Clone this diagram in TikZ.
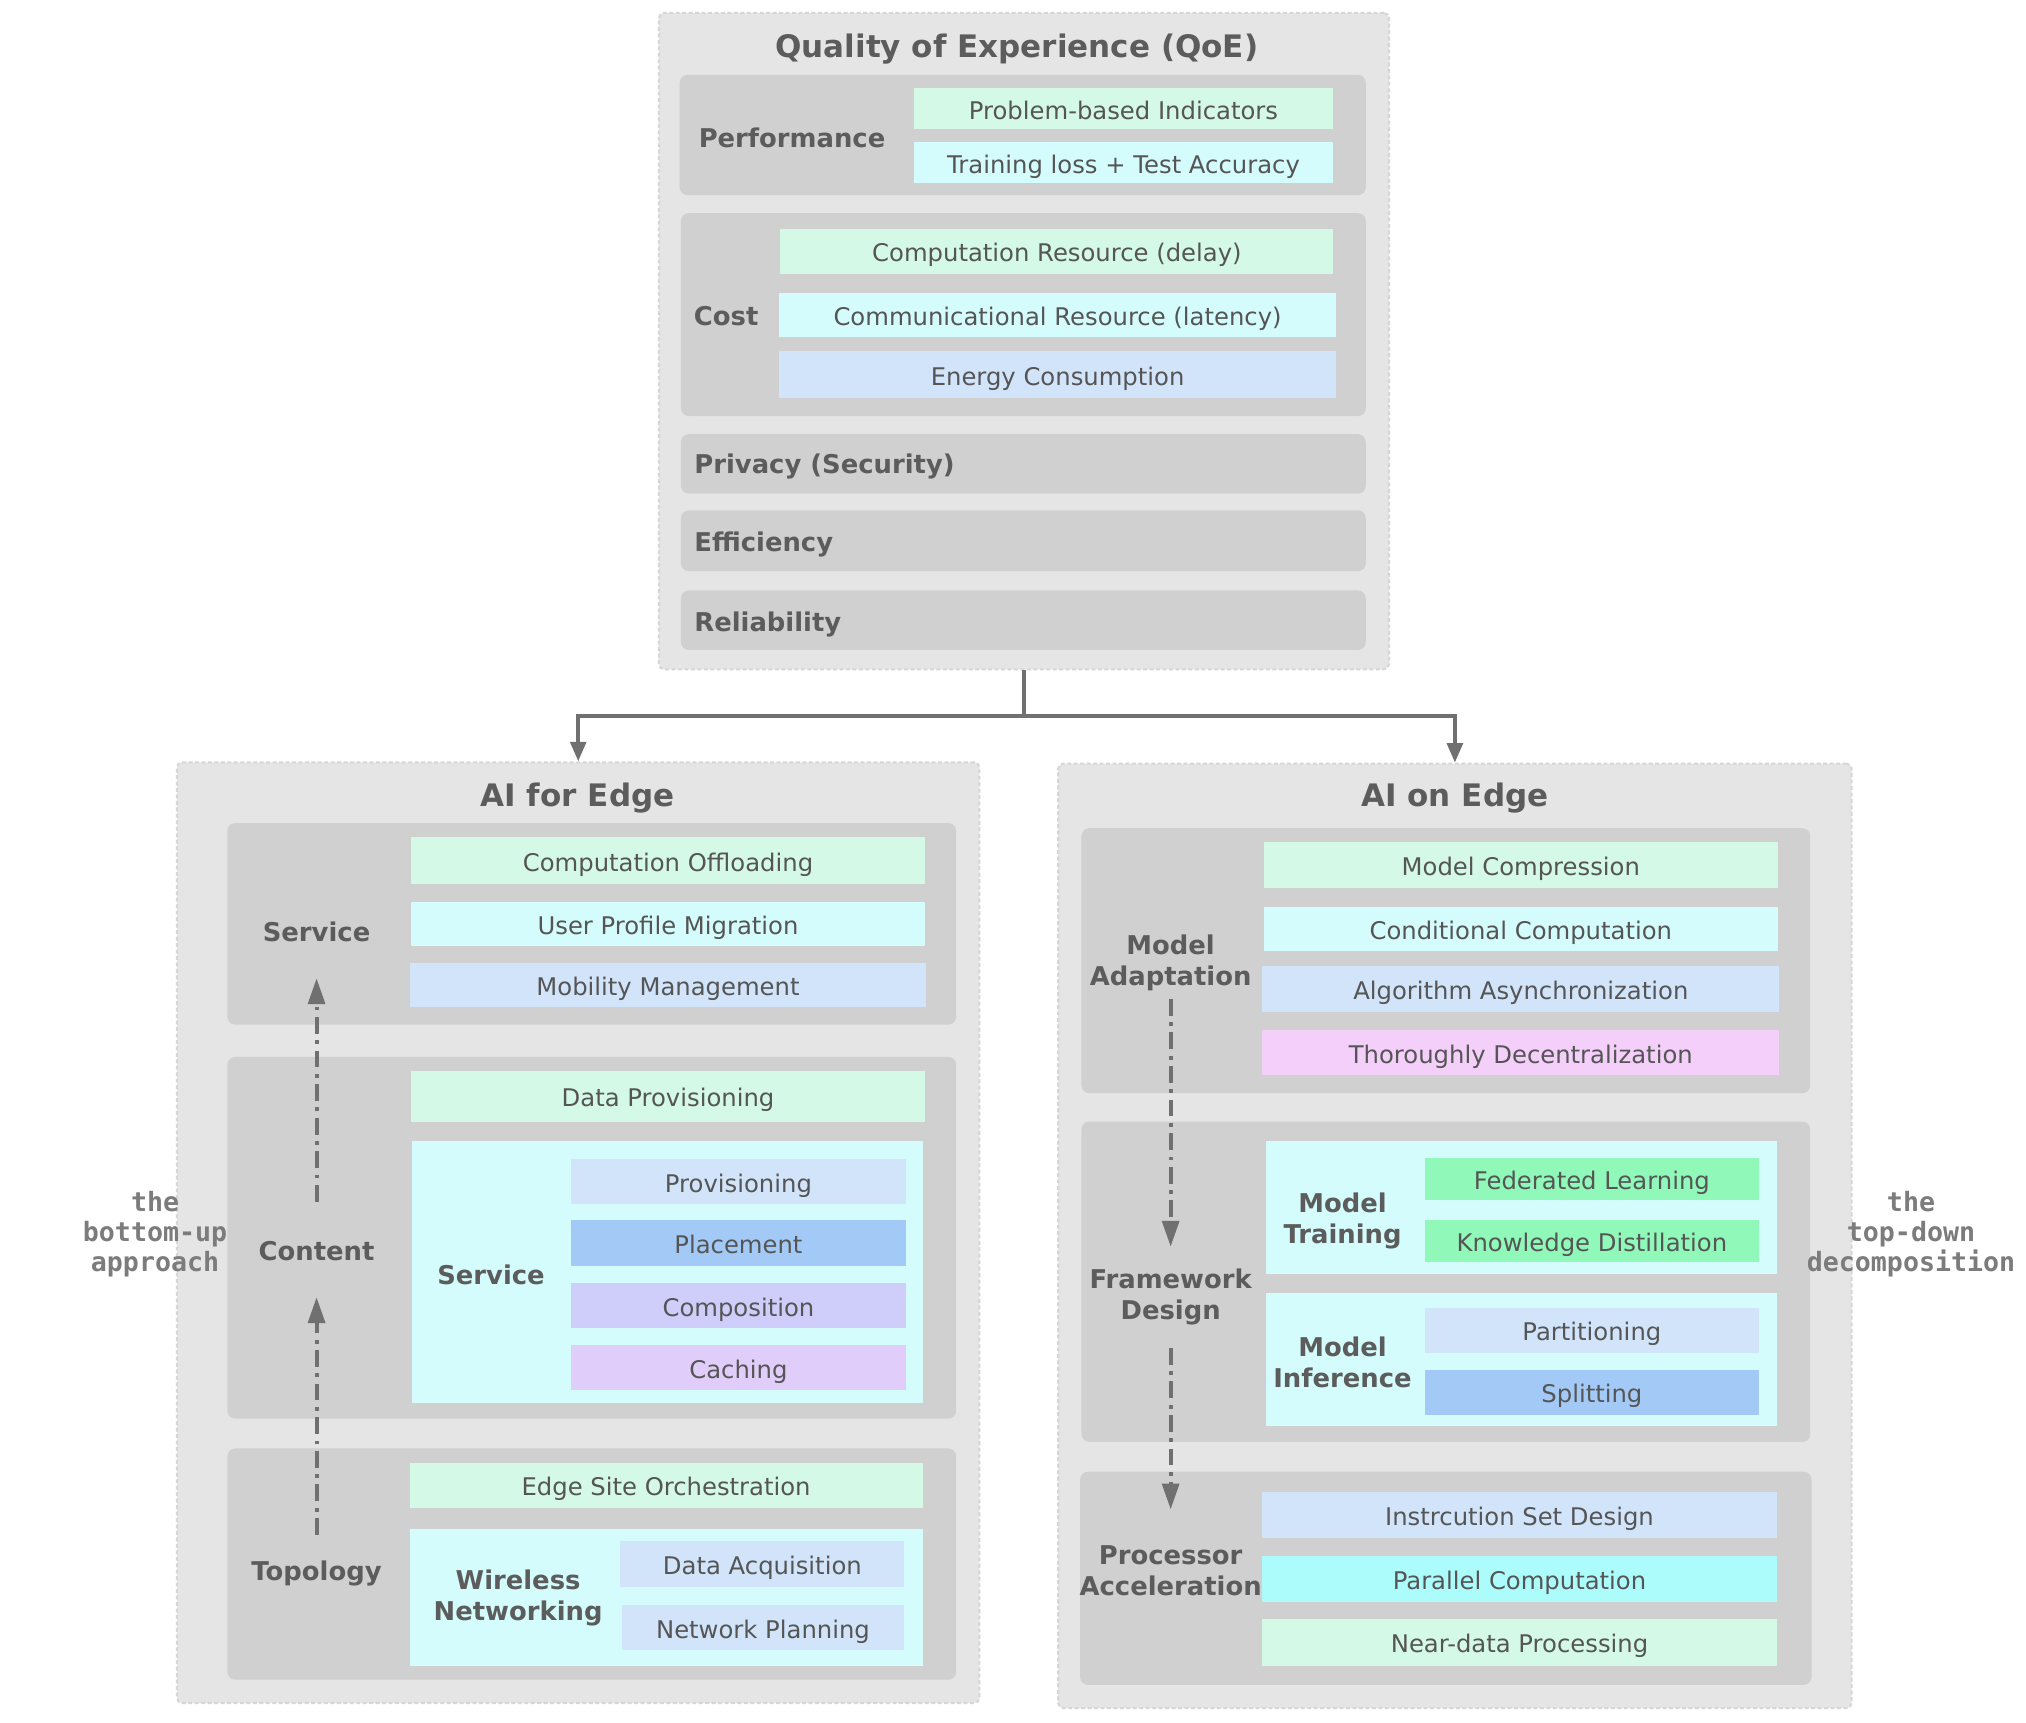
\documentclass[tikz,border=0pt]{standalone}
\usepackage{fontspec}
\setmainfont{DejaVu Sans}
\setmonofont{DejaVu Sans Mono}
\usepackage{tikz}
\usetikzlibrary{positioning}
\usetikzlibrary{arrows.meta}

\definecolor{outerfill}{HTML}{E5E5E5}
\definecolor{outerline}{HTML}{D6D6D6}
\definecolor{groupfill}{HTML}{D0D0D0}
\definecolor{cgreen}{HTML}{D4F9E6}
\definecolor{ccyan}{HTML}{D4FCFC}
\definecolor{cblue}{HTML}{D1E4FA}
\definecolor{cbluedk}{HTML}{A3CAF7}
\definecolor{clav}{HTML}{CFCDFA}
\definecolor{cpurple}{HTML}{E1CDF9}
\definecolor{cpink}{HTML}{F3CFFA}
\definecolor{cgreendk}{HTML}{90F8B9}
\definecolor{ccyandk}{HTML}{ADFCFC}
\definecolor{itemtext}{HTML}{555555}
\definecolor{labeltext}{HTML}{5C5C5C}
\definecolor{sidetext}{HTML}{7C7C7C}
\definecolor{arrowgrey}{HTML}{707070}

\tikzset{
  sz/.style 2 args={minimum width=#1*0.5pt,minimum height=#2*0.5pt},
  outer box/.style={draw=outerline,fill=outerfill,line width=0.8pt,dash pattern=on 1.5pt off 1pt,rounded corners=2pt,inner sep=0pt},
  group box/.style={fill=groupfill,rounded corners=3pt,inner sep=0pt},
  inner box/.style={fill=ccyan,inner sep=0pt},
  item box/.style={fill=#1,inner sep=0pt,text=itemtext,text height=8.2pt,text depth=0pt,font=\fontsize{9.4}{11}\selectfont},
  box title/.style={text=labeltext,inner sep=0pt,font=\fontsize{12}{14}\selectfont\bfseries},
  grp label/.style={text=labeltext,inner sep=0pt,align=center,font=\fontsize{10}{12}\selectfont\bfseries},
  side label/.style={text=sidetext,inner sep=0pt,align=center,font=\fontsize{10.3}{11.5}\selectfont\ttfamily\bfseries},
  conn/.style={draw=arrowgrey,line width=1.5pt,-{Triangle[length=7.5pt,width=6pt]}},
  flow/.style={draw=arrowgrey,line width=1.5pt,dash pattern=on 6.5pt off 2.5pt on 1.5pt off 2.5pt,-{Triangle[length=10pt,width=6.5pt]}},
}

\begin{document}
\begin{tikzpicture}[x=0.5pt,y=-0.5pt]
  \useasboundingbox[fill=white] (0,0) rectangle (1568,1333);

  % quality of experience
  \node[outer box, sz={565}{508}] (qoe) at (792.5,264) {};
  \node[box title] (qoeT) at (787,38) {Quality of Experience (QoE)};

  \node[group box, sz={531}{93}] (perf) at (791.5,104.5) {};
  \node[grp label] (perfL) at (613,107) {Performance};
  \node[item box=cgreen, sz={325}{32}] (pbi) at (869.5,84) {Problem-based Indicators};
  \node[item box=ccyan, sz={325}{32}] (tla) at (869.5,126) {Training loss + Test Accuracy};

  \node[group box, sz={530}{157}] (cost) at (792,243.5) {};
  \node[grp label] (costL) at (562,245) {Cost};
  \node[item box=cgreen, sz={428}{35}] (crd) at (818,194.5) {Computation Resource (delay)};
  \node[item box=ccyan, sz={431}{34}] (crl) at (818.5,244) {Communicational Resource (latency)};
  \node[item box=cblue, sz={431}{36}] (enc) at (818.5,290) {Energy Consumption};

  \node[group box, sz={530}{46}] (priv) at (792,359) {};
  \node[grp label, anchor=west] (privL) at (537,361) {Privacy (Security)};
  \node[group box, sz={530}{47}] (effi) at (792,418.5) {};
  \node[grp label, anchor=west] (effiL) at (537,421) {Efficiency};
  \node[group box, sz={530}{46}] (reli) at (792,480) {};
  \node[grp label, anchor=west] (reliL) at (537,483) {Reliability};

  % AI for edge
  \node[outer box, sz={621}{728}] (afe) at (447.5,954) {};
  \node[box title] (afeT) at (447,618) {AI for Edge};

  \node[group box, sz={564}{156}] (svc) at (458,715) {};
  \node[grp label] (svcL) at (245,721) {Service};
  \node[item box=cgreen, sz={398}{36}] (co) at (517,666) {Computation Offloading};
  \node[item box=ccyan, sz={398}{34}] (upm) at (517,715) {User Profile Migration};
  \node[item box=cblue, sz={400}{34}] (mm) at (517,762) {Mobility Management};

  \node[group box, sz={564}{280}] (cont) at (458,958) {};
  \node[grp label] (contL) at (245,968) {Content};
  \node[item box=cgreen, sz={398}{39}] (dp) at (517,848.5) {Data Provisioning};
  \node[inner box, sz={395}{203}] (csvc) at (516.5,984.5) {};
  \node[grp label] (csvcL) at (380,987) {Service};
  \node[item box=cblue, sz={259}{35}] (prov) at (571.5,914.5) {Provisioning};
  \node[item box=cbluedk, sz={259}{36}] (plac) at (571.5,962) {Placement};
  \node[item box=clav, sz={259}{35}] (comp) at (571.5,1010.5) {Composition};
  \node[item box=cpurple, sz={259}{35}] (cach) at (571.5,1058.5) {Caching};

  \node[group box, sz={564}{179}] (topo) at (458,1210.5) {};
  \node[grp label] (topoL) at (245,1218) {Topology};
  \node[item box=cgreen, sz={397}{35}] (eso) at (515.5,1149.5) {Edge Site Orchestration};
  \node[inner box, sz={397}{106}] (wn) at (515.5,1236) {};
  \node[grp label] (wnL) at (401,1237) {Wireless\\Networking};
  \node[item box=cblue, sz={220}{35}] (da) at (590,1210.5) {Data Acquisition};
  \node[item box=cblue, sz={219}{35}] (np) at (590.5,1259.5) {Network Planning};

  % AI on edge
  \node[outer box, sz={614}{731}] (aoe) at (1126,956.5) {};
  \node[box title] (aoeT) at (1126,618) {AI on Edge};

  \node[group box, sz={564}{205}] (ma) at (1119,743.5) {};
  \node[grp label] (maL) at (906,745) {Model\\Adaptation};
  \node[item box=cgreen, sz={398}{35}] (mc) at (1177,669.5) {Model Compression};
  \node[item box=ccyan, sz={398}{34}] (cc) at (1177,719) {Conditional Computation};
  \node[item box=cblue, sz={400}{35}] (aa) at (1177,765.5) {Algorithm Asynchronization};
  \node[item box=cpink, sz={400}{35}] (td) at (1177,814.5) {Thoroughly Decentralization};

  \node[group box, sz={564}{248}] (fd) at (1119,992) {};
  \node[grp label] (fdL) at (906,1004) {Framework\\Design};
  \node[inner box, sz={395}{103}] (mt) at (1177.5,934.5) {};
  \node[grp label] (mtL) at (1039,945) {Model\\Training};
  \node[item box=cgreendk, sz={258}{33}] (fl) at (1232,912.5) {Federated Learning};
  \node[item box=cgreendk, sz={258}{33}] (kd) at (1232,960.5) {Knowledge Distillation};
  \node[inner box, sz={395}{103}] (mi) at (1177.5,1052.5) {};
  \node[grp label] (miL) at (1039,1054) {Model\\Inference};
  \node[item box=cblue, sz={258}{35}] (part) at (1232,1029.5) {Partitioning};
  \node[item box=cbluedk, sz={258}{35}] (spl) at (1232,1077.5) {Splitting};

  \node[group box, sz={566}{165}] (pa) at (1119,1221.5) {};
  \node[grp label] (paL) at (906,1216) {Processor\\Acceleration};
  \node[item box=cblue, sz={398}{35}] (isd) at (1176,1172.5) {Instrcution Set Design};
  \node[item box=ccyandk, sz={398}{36}] (pc) at (1176,1222) {Parallel Computation};
  \node[item box=cgreen, sz={398}{36}] (ndp) at (1176,1271) {Near-data Processing};

  % side notes
  \node[side label] (bu) at (120,955) {the\\bottom-up\\approach};
  \node[side label] (tdn) at (1479,955) {the\\top-down\\decomposition};

  % connectors
  \draw[conn] (qoe.south) -- ++(0,35) -| (afe.north);
  \draw[conn] (qoe.south) -- ++(0,35) -| (aoe.north);

  \draw[flow, shorten <=10pt, shorten >=14pt] (topoL.north) -- (contL.south);
  \draw[flow, shorten <=15pt, shorten >=14pt] (contL.north) -- (svcL.south);
  \draw[flow, shorten <=3pt, shorten >=8.5pt] (maL.south) -- (fdL.north);
  \draw[flow, shorten <=8.5pt, shorten >=14pt] (fdL.south) -- (paL.north);
\end{tikzpicture}
\end{document}
